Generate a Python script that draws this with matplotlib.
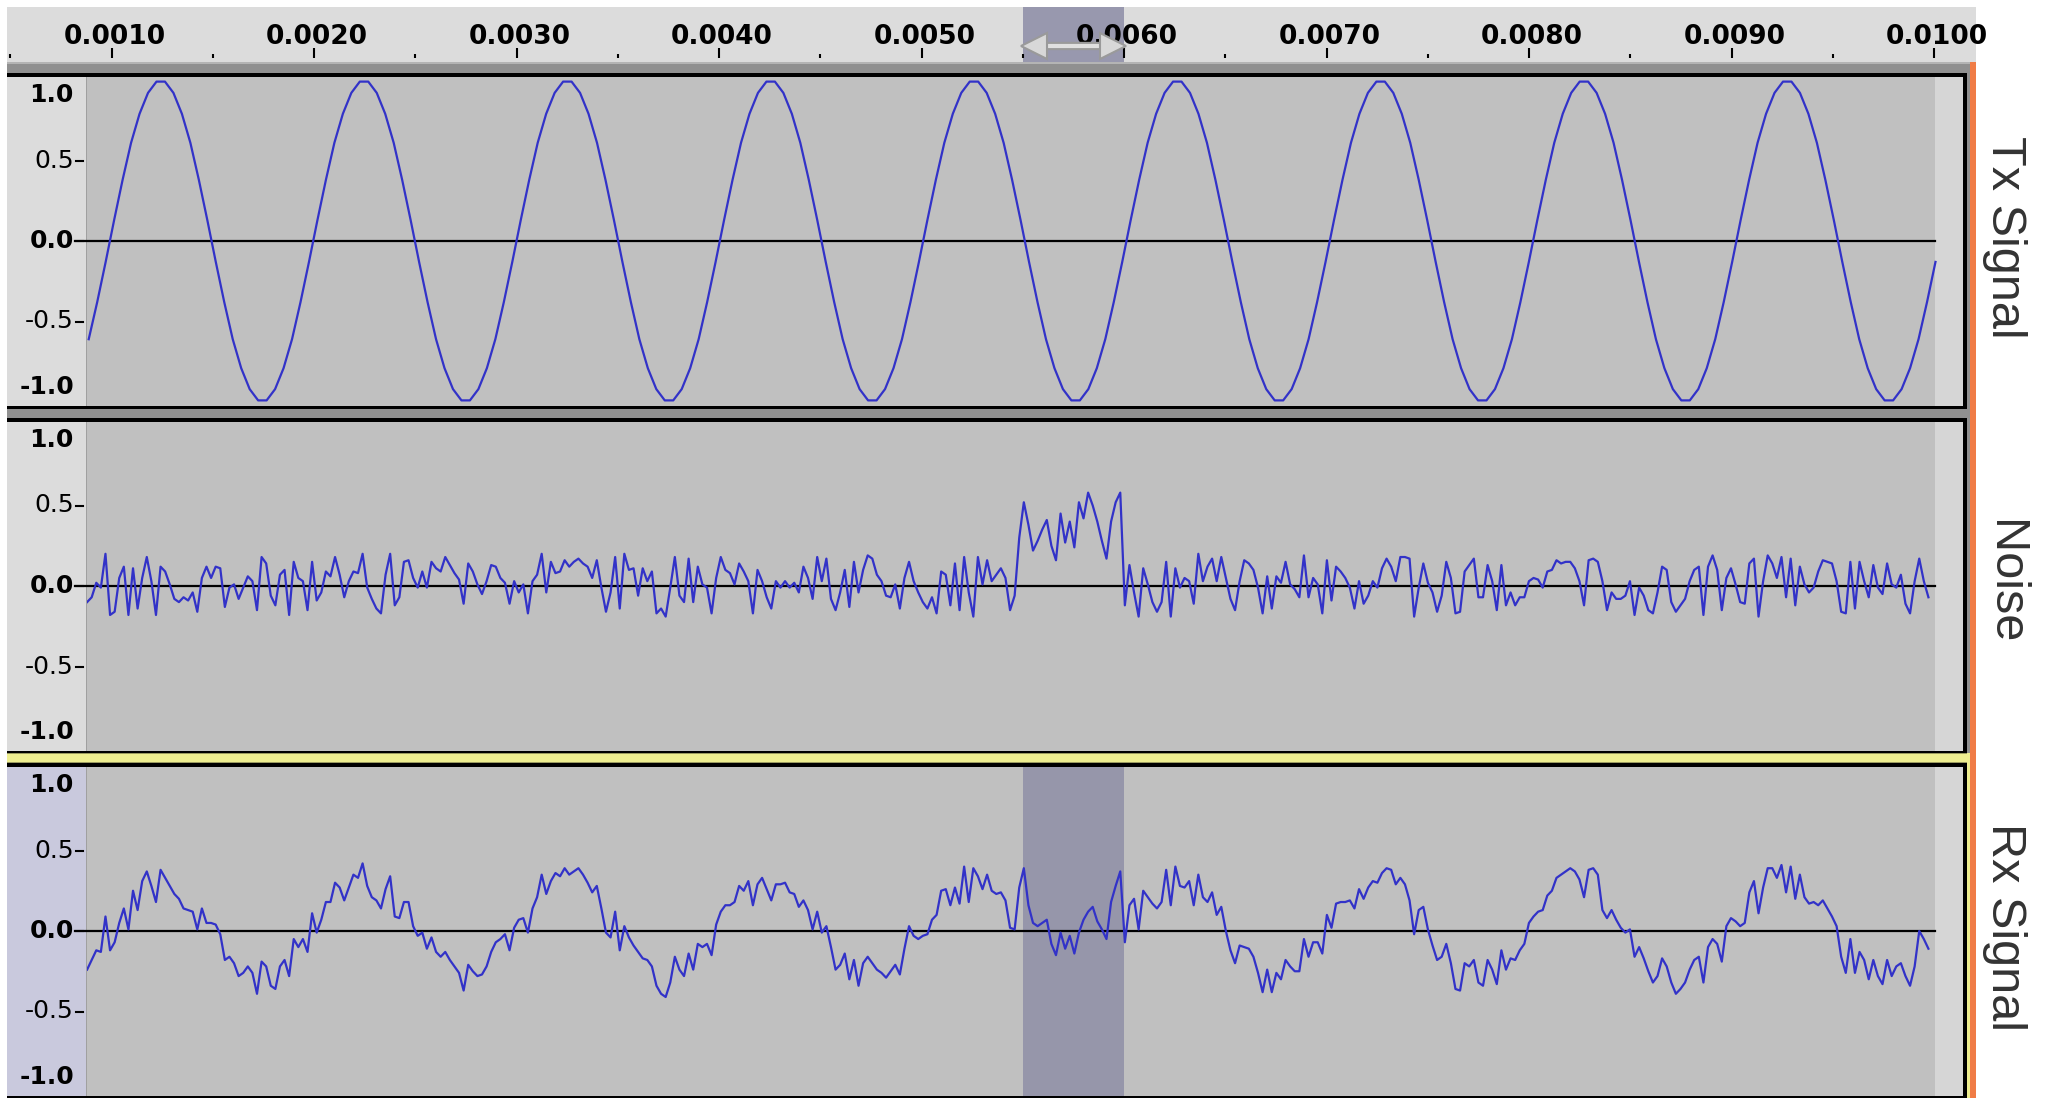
import matplotlib.pyplot as plt
from matplotlib.patches import Rectangle
from matplotlib.transforms import blended_transform_factory
import numpy as np

W, H = 2050, 1098

# top time ruler
RULER_TICKS = [0.001, 0.002, 0.003, 0.004, 0.005, 0.006, 0.007, 0.008, 0.009, 0.010]
RULER_LABELS = ['0.0010', '0.0020', '0.0030', '0.0040', '0.0050',
                '0.0060', '0.0070', '0.0080', '0.0090', '0.0100']
RULER_MINOR = [0.0005, 0.0015, 0.0025, 0.0035, 0.0045, 0.0055,
               0.0065, 0.0075, 0.0085, 0.0095]

TRACK_NAMES = ['Tx Signal', 'Noise', 'Rx Signal']
AMP_TICKS = [1.0, 0.5, 0.0, -0.5, -1.0]
AMP_LABELS = ['1.0', '0.5', '0.0', '-0.5', '-1.0']

# selected time range (only on the Rx track)
SEL_START, SEL_END = 0.0055, 0.0060

# Tx track samples
TX_START = 0.000887
TX_RATE = 23904
TX_VALUES = [
    -0.61, -0.38, -0.13, 0.13, 0.38, 0.61, 0.79, 0.92, 0.99, 0.99, 0.92, 0.79, 0.61, 0.38, 0.13, -0.13, -0.38, -0.61, -0.79, -0.92, -0.99, -0.99, -0.92, -0.79,
    -0.61, -0.38, -0.13, 0.13, 0.38, 0.61, 0.79, 0.92, 0.99, 0.99, 0.92, 0.79, 0.61, 0.38, 0.13, -0.13, -0.38, -0.61, -0.79, -0.92, -0.99, -0.99, -0.92, -0.79,
    -0.61, -0.38, -0.13, 0.13, 0.38, 0.61, 0.79, 0.92, 0.99, 0.99, 0.92, 0.79, 0.61, 0.38, 0.13, -0.13, -0.38, -0.61, -0.79, -0.92, -0.99, -0.99, -0.92, -0.79,
    -0.61, -0.38, -0.13, 0.13, 0.38, 0.61, 0.79, 0.92, 0.99, 0.99, 0.92, 0.79, 0.61, 0.38, 0.13, -0.13, -0.38, -0.61, -0.79, -0.92, -0.99, -0.99, -0.92, -0.79,
    -0.61, -0.38, -0.13, 0.13, 0.38, 0.61, 0.79, 0.92, 0.99, 0.99, 0.92, 0.79, 0.61, 0.38, 0.13, -0.13, -0.38, -0.61, -0.79, -0.92, -0.99, -0.99, -0.92, -0.79,
    -0.61, -0.38, -0.13, 0.13, 0.38, 0.61, 0.79, 0.92, 0.99, 0.99, 0.92, 0.79, 0.61, 0.38, 0.13, -0.13, -0.38, -0.61, -0.79, -0.92, -0.99, -0.99, -0.92, -0.79,
    -0.61, -0.38, -0.13, 0.13, 0.38, 0.61, 0.79, 0.92, 0.99, 0.99, 0.92, 0.79, 0.61, 0.38, 0.13, -0.13, -0.38, -0.61, -0.79, -0.92, -0.99, -0.99, -0.92, -0.79,
    -0.61, -0.38, -0.13, 0.13, 0.38, 0.61, 0.79, 0.92, 0.99, 0.99, 0.92, 0.79, 0.61, 0.38, 0.13, -0.13, -0.38, -0.61, -0.79, -0.92, -0.99, -0.99, -0.92, -0.79,
    -0.61, -0.38, -0.13, 0.13, 0.38, 0.61, 0.79, 0.92, 0.99, 0.99, 0.92, 0.79, 0.61, 0.38, 0.13, -0.13, -0.38, -0.61, -0.79, -0.92, -0.99, -0.99, -0.92, -0.79,
    -0.61, -0.38, -0.13,
]

# Noise and Rx tracks, 44.1 kHz samples
SIG_START = 0.000879
SIG_RATE = 44100
NOISE_VALUES = [
    -0.10, -0.07, 0.02, -0.01, 0.20, -0.18, -0.16, 0.05, 0.12, -0.18,
    0.11, -0.14, 0.05, 0.18, 0.03, -0.18, 0.12, 0.09, 0.01, -0.08,
    -0.10, -0.07, -0.09, -0.04, -0.16, 0.05, 0.12, 0.05, 0.12, 0.11,
    -0.13, -0.01, 0.01, -0.08, -0.01, 0.06, 0.03, -0.15, 0.18, 0.14,
    -0.06, -0.12, 0.07, 0.10, -0.18, 0.15, 0.05, 0.03, -0.15, 0.15,
    -0.09, -0.04, 0.09, 0.06, 0.18, 0.07, -0.07, 0.03, 0.09, 0.08,
    0.20, -0.01, -0.08, -0.14, -0.17, 0.07, 0.20, -0.12, -0.07, 0.15,
    0.16, 0.05, -0.01, 0.09, -0.01, 0.15, 0.11, 0.09, 0.18, 0.13,
    0.08, 0.04, -0.11, 0.14, 0.09, 0.01, -0.05, 0.03, 0.13, 0.12,
    0.05, 0.02, -0.11, 0.03, -0.04, 0.01, -0.17, 0.03, 0.07, 0.20,
    -0.04, 0.15, 0.08, 0.09, 0.16, 0.12, 0.15, 0.17, 0.14, 0.12,
    0.05, 0.16, -0.01, -0.16, -0.04, 0.18, -0.14, 0.20, 0.10, 0.11,
    -0.06, 0.11, 0.03, 0.09, -0.17, -0.14, -0.19, -0.01, 0.18, -0.06,
    -0.10, 0.17, -0.10, 0.12, 0.01, -0.01, -0.17, 0.05, 0.18, 0.10,
    0.08, 0.01, 0.14, 0.09, 0.03, -0.17, 0.10, 0.03, -0.07, -0.14,
    0.03, -0.01, 0.03, -0.01, 0.02, -0.04, 0.12, 0.05, -0.08, 0.18,
    0.03, 0.17, -0.08, -0.15, -0.04, 0.10, -0.13, 0.15, -0.04, 0.10,
    0.19, 0.17, 0.07, 0.03, -0.06, -0.07, 0.01, -0.14, 0.05, 0.15,
    0.03, -0.04, -0.10, -0.14, -0.07, -0.17, 0.09, 0.07, -0.12, 0.14,
    -0.15, 0.18, -0.04, -0.19, 0.18, 0.01, 0.16, 0.03, 0.07, 0.11,
    0.05, -0.15, -0.06, 0.30, 0.52, 0.38, 0.22, 0.28, 0.35, 0.41,
    0.25, 0.16, 0.45, 0.27, 0.40, 0.24, 0.52, 0.42, 0.58, 0.50,
    0.40, 0.28, 0.17, 0.40, 0.52, 0.58, -0.12, 0.13, -0.04, -0.19,
    0.11, 0.01, -0.10, -0.16, -0.10, 0.15, -0.19, 0.11, -0.01, 0.05,
    0.03, -0.11, 0.20, 0.03, 0.12, 0.17, 0.03, 0.18, 0.05, -0.08,
    -0.15, 0.03, 0.16, 0.14, 0.10, -0.01, -0.17, 0.06, -0.14, 0.06,
    0.02, 0.15, 0.01, -0.02, -0.07, 0.19, -0.07, 0.05, 0.01, -0.17,
    0.16, -0.09, 0.12, 0.09, 0.05, -0.01, -0.14, 0.03, -0.11, -0.06,
    0.03, -0.01, 0.11, 0.17, 0.12, 0.03, 0.18, 0.18, 0.17, -0.19,
    -0.01, 0.14, 0.02, -0.04, -0.16, -0.06, 0.15, 0.05, -0.17, -0.16,
    0.09, 0.13, 0.17, -0.07, -0.07, 0.13, 0.03, -0.15, 0.13, -0.12,
    -0.04, -0.12, -0.07, -0.07, 0.03, 0.05, 0.04, -0.01, 0.09, 0.10,
    0.16, 0.14, 0.15, 0.15, 0.11, 0.03, -0.12, 0.16, 0.17, 0.15,
    0.03, -0.15, -0.04, -0.08, -0.08, -0.06, 0.03, -0.18, -0.01, -0.06,
    -0.15, -0.17, -0.04, 0.12, 0.10, -0.10, -0.16, -0.12, -0.08, 0.03,
    0.10, 0.12, -0.18, 0.12, 0.19, 0.10, -0.15, 0.05, 0.11, 0.01,
    -0.10, -0.11, 0.14, 0.17, -0.19, 0.03, 0.19, 0.14, 0.05, 0.18,
    -0.07, 0.17, -0.12, 0.12, 0.01, -0.04, -0.01, 0.09, 0.16, 0.15,
    0.14, 0.03, -0.16, -0.17, 0.15, -0.14, 0.15, 0.03, -0.07, 0.13,
    -0.01, -0.05, 0.14, 0.01, -0.01, 0.07, -0.11, -0.17, 0.03, 0.17,
    0.03, -0.07,
]
RX_VALUES = [
    -0.24, -0.18, -0.12, -0.13, 0.09, -0.12, -0.07, 0.05, 0.14, 0.01,
    0.25, 0.13, 0.31, 0.37, 0.28, 0.18, 0.38, 0.33, 0.28, 0.23,
    0.20, 0.14, 0.13, 0.12, 0.01, 0.14, 0.05, 0.05, 0.04, -0.02,
    -0.18, -0.16, -0.20, -0.28, -0.26, -0.22, -0.26, -0.39, -0.19, -0.22,
    -0.34, -0.36, -0.22, -0.18, -0.28, -0.05, -0.10, -0.05, -0.13, 0.11,
    -0.01, 0.07, 0.18, 0.18, 0.30, 0.27, 0.19, 0.27, 0.35, 0.33,
    0.42, 0.28, 0.21, 0.19, 0.14, 0.26, 0.34, 0.09, 0.08, 0.18,
    0.18, 0.03, -0.03, -0.01, -0.11, -0.04, -0.13, -0.16, -0.13, -0.18,
    -0.22, -0.26, -0.37, -0.21, -0.25, -0.28, -0.27, -0.22, -0.13, -0.07,
    -0.05, -0.02, -0.12, 0.02, 0.07, 0.08, -0.01, 0.14, 0.21, 0.35,
    0.23, 0.31, 0.36, 0.34, 0.39, 0.35, 0.37, 0.39, 0.35, 0.30,
    0.24, 0.28, 0.14, -0.01, -0.04, 0.12, -0.12, 0.03, -0.04, -0.09,
    -0.13, -0.17, -0.18, -0.22, -0.34, -0.39, -0.41, -0.32, -0.16, -0.24,
    -0.28, -0.14, -0.24, -0.08, -0.10, -0.08, -0.15, 0.04, 0.12, 0.16,
    0.16, 0.18, 0.28, 0.25, 0.31, 0.16, 0.29, 0.33, 0.26, 0.19,
    0.29, 0.29, 0.30, 0.24, 0.23, 0.15, 0.19, 0.13, 0.01, 0.12,
    -0.01, 0.03, -0.10, -0.24, -0.21, -0.14, -0.30, -0.18, -0.34, -0.20,
    -0.16, -0.20, -0.24, -0.26, -0.29, -0.25, -0.21, -0.27, -0.11, 0.03,
    -0.03, -0.05, -0.03, -0.02, 0.07, 0.10, 0.25, 0.26, 0.16, 0.27,
    0.17, 0.40, 0.18, 0.39, 0.34, 0.26, 0.35, 0.25, 0.23, 0.24,
    0.19, 0.02, 0.01, 0.27, 0.39, 0.16, 0.05, 0.03, 0.05, 0.07,
    -0.08, -0.15, -0.01, -0.11, -0.03, -0.14, -0.01, 0.07, 0.12, 0.15,
    0.06, 0.01, -0.05, 0.18, 0.28, 0.37, -0.07, 0.16, 0.20, 0.01,
    0.25, 0.21, 0.17, 0.14, 0.18, 0.38, 0.16, 0.40, 0.28, 0.27,
    0.31, 0.16, 0.35, 0.21, 0.18, 0.24, 0.10, 0.15, 0.00, -0.12,
    -0.20, -0.09, -0.10, -0.11, -0.16, -0.26, -0.38, -0.24, -0.38, -0.26,
    -0.30, -0.18, -0.22, -0.25, -0.25, -0.05, -0.16, -0.07, -0.07, -0.14,
    0.10, 0.02, 0.17, 0.18, 0.18, 0.19, 0.14, 0.26, 0.20, 0.27,
    0.31, 0.30, 0.36, 0.39, 0.38, 0.29, 0.33, 0.29, 0.19, -0.02,
    0.13, 0.15, 0.01, -0.09, -0.18, -0.16, -0.08, -0.20, -0.36, -0.37,
    -0.20, -0.22, -0.18, -0.32, -0.34, -0.18, -0.24, -0.33, -0.12, -0.24,
    -0.17, -0.18, -0.12, -0.08, 0.05, 0.09, 0.12, 0.13, 0.22, 0.25,
    0.33, 0.35, 0.37, 0.39, 0.37, 0.32, 0.21, 0.38, 0.39, 0.35,
    0.13, 0.08, 0.13, 0.07, 0.02, -0.01, 0.01, -0.16, -0.10, -0.17,
    -0.25, -0.32, -0.28, -0.17, -0.22, -0.32, -0.39, -0.36, -0.32, -0.24,
    -0.18, -0.16, -0.32, -0.10, -0.05, -0.08, -0.19, 0.03, 0.08, 0.06,
    0.03, 0.05, 0.24, 0.31, 0.11, 0.27, 0.39, 0.39, 0.33, 0.41,
    0.24, 0.40, 0.20, 0.35, 0.21, 0.17, 0.18, 0.16, 0.19, 0.14,
    0.09, 0.03, -0.16, -0.26, -0.05, -0.26, -0.13, -0.18, -0.30, -0.18,
    -0.28, -0.33, -0.18, -0.28, -0.22, -0.20, -0.28, -0.34, -0.22, 0.00,
    -0.05, -0.11,
]

# layout in pixels
ZERO_Y = [241, 586, 931]
PX_PER_UNIT = 161
WAVE_X0, WAVE_X1 = 87, 1963
WAVE_COLOR = '#3232c8'
GAP_GRAY = '#909090'


def px_to_t(x):
    """Pixel column -> time in seconds (ruler scale)."""
    return 0.001 + (x - 111.6) / 202500.0


def rect(ax, x0, y0, x1, y1, color, z=1):
    ax.add_patch(Rectangle((x0, y0), x1 - x0, y1 - y0, color=color, lw=0, zorder=z))


def clean(ax):
    ax.set_xticks([])
    ax.set_yticks([])
    for s in ax.spines.values():
        s.set_visible(False)


fig = plt.figure(figsize=(W / 100, H / 100), dpi=100)

# canvas for all the window chrome, pixel coordinates
cv = fig.add_axes([0, 0, 1, 1])
cv.set_xlim(0, W)
cv.set_ylim(H, 0)
cv.axis('off')

# gray area behind tracks + orange window edge
rect(cv, 7, 62, 1970, H, GAP_GRAY)
rect(cv, 7, 62, 1970, 64, '#b4b4b4')
rect(cv, 1970, 62, 1976, H, '#f07c46')

tx_t = TX_START + np.arange(len(TX_VALUES)) / TX_RATE
sig_t = SIG_START + np.arange(len(NOISE_VALUES)) / SIG_RATE
data_end = max(tx_t[-1], sig_t[-1])
series = [(tx_t, TX_VALUES), (sig_t, NOISE_VALUES), (sig_t, RX_VALUES)]

for i, zy in enumerate(ZERO_Y):
    top, bot = zy - 164, zy + 165
    selected = (i == 2)

    # borders: black top line, thick black bottom/right shadow
    rect(cv, 7, top - 4, 1967, top, 'black')
    rect(cv, 7, bot, 1967, bot + 3, 'black')
    rect(cv, 1963, top - 4, 1967, bot + 3, 'black')
    if selected:
        # yellow focus frame
        rect(cv, 7, top - 14, 1970, top - 4, '#eeee90', z=2)
        rect(cv, 7, top - 14, 1970, top - 13, '#9a9a60', z=2)
        rect(cv, 7, top - 5, 1970, top - 4, '#9a9a60', z=2)
        rect(cv, 1967, top - 14, 1970, H, '#eeee90', z=2)

    # vertical amplitude ruler
    rect(cv, 7, top, 86, bot, '#c9c9dd' if selected else '#dcdcdc', z=2)
    rect(cv, 86, top, 87, bot, '#a0a0a0', z=2)
    for val, lab in zip(AMP_TICKS, AMP_LABELS):
        y = zy - val * PX_PER_UNIT
        bold = lab in ('1.0', '0.0', '-1.0')
        if abs(val) == 1.0:
            y = y + (15 if val > 0 else -15)
        else:
            cv.plot([76, 83], [y, y], color='black', lw=1.5, zorder=3)
        cv.text(74, y, lab, ha='right', va='center', fontsize=18,
                fontweight='bold' if bold else 'normal', color='black', zorder=3)
    cv.plot([75, 87], [zy, zy], color='black', lw=1.6, zorder=3)

    # waveform area
    ax = fig.add_axes([WAVE_X0 / W, 1 - bot / H, (WAVE_X1 - WAVE_X0) / W, (bot - top) / H])
    ax.set_facecolor('#c0c0c0')
    clean(ax)
    ax.set_xlim(px_to_t(WAVE_X0), px_to_t(WAVE_X1))
    ax.set_ylim(-165 / PX_PER_UNIT, 164 / PX_PER_UNIT)
    ax.axvspan(data_end, px_to_t(WAVE_X1), color='#d6d6d6', lw=0, zorder=1)
    if selected:
        ax.axvspan(SEL_START, SEL_END, color='#9696aa', lw=0, zorder=1)
    ax.plot([px_to_t(WAVE_X0), data_end], [0, 0], color='black', lw=1.6, zorder=2)
    t, v = series[i]
    ax.plot(t, v, color=WAVE_COLOR, lw=1.6, zorder=3)

    # track name on the right
    cv.text(2005, zy - 4, TRACK_NAMES[i], rotation=270, ha='center', va='center',
            fontsize=35, family='Liberation Sans', color='#333333')

# top time ruler
ra = fig.add_axes([7 / W, 1 - 62 / H, (1976 - 7) / W, 55 / H])
ra.set_facecolor('#dcdcdc')
clean(ra)
ra.set_xlim(px_to_t(7), px_to_t(1976))
ra.set_ylim(0, 1)
ra.axvspan(SEL_START, SEL_END, color='#9898ae', lw=0, zorder=1)
trans = blended_transform_factory(ra.transData, ra.transAxes)
ra.vlines(RULER_TICKS, 0.08, 0.25, color='black', lw=1.5, transform=trans, zorder=2)
ra.vlines(RULER_MINOR, 0.08, 0.15, color='black', lw=1.5, transform=trans, zorder=2)
for tk, lab in zip(RULER_TICKS, RULER_LABELS):
    ra.text(tk + 3 / 202500.0, 0.46, lab, ha='center', va='center', fontsize=19,
            fontweight='bold', color='black', transform=trans, zorder=3)

# selection drag arrow: double shaft + hollow-looking heads
head = 11 / 202500.0
ra.plot([SEL_START + head, SEL_END - head], [0.29, 0.29], color='#9a9a9a', lw=6,
        transform=trans, solid_capstyle='butt', zorder=4)
ra.plot([SEL_START + head, SEL_END - head], [0.29, 0.29], color='#e0e0e0', lw=3,
        transform=trans, solid_capstyle='butt', zorder=5)
ra.plot([SEL_START + head], [0.29], marker='<', ms=19, mfc='#d8d8d8', mec='#9a9a9a',
        mew=1.5, transform=trans, zorder=6)
ra.plot([SEL_END - head], [0.29], marker='>', ms=19, mfc='#d8d8d8', mec='#9a9a9a',
        mew=1.5, transform=trans, zorder=6)

plt.savefig('out.png', dpi=100)
